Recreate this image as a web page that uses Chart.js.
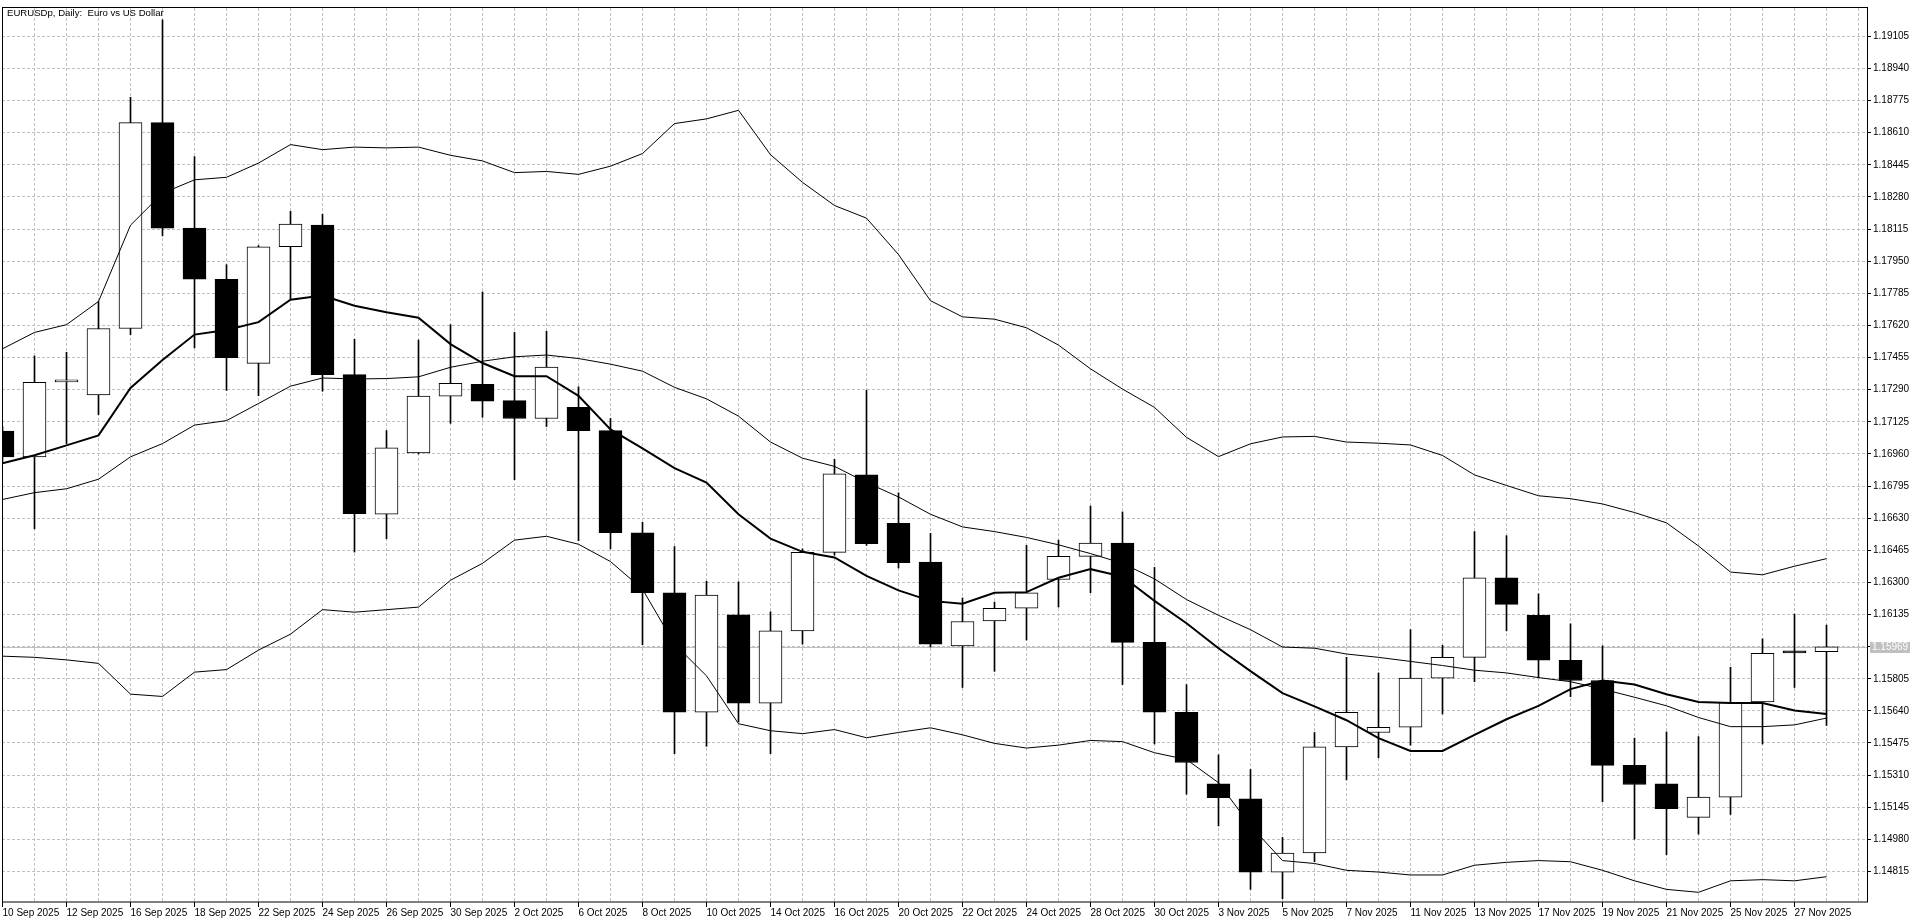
<!DOCTYPE html>
<html>
<head>
<meta charset="utf-8">
<title>EURUSDp, Daily</title>
<script src="https://cdn.jsdelivr.net/npm/chart.js@4.4.1/dist/chart.umd.min.js"></script>
<style>
  html, body { margin: 0; padding: 0; background: #fff; overflow: hidden; }
  #wrap { position: relative; width: 1920px; height: 923px; }
</style>
</head>
<body>
<div id="wrap"><canvas id="chart"></canvas></div>
<script>
'use strict';

// ── Data ──────────────────────────────────────────────────────
const dates = [
  '10 Sep 2025', '11 Sep 2025', '12 Sep 2025', '15 Sep 2025', '16 Sep 2025',
  '17 Sep 2025', '18 Sep 2025', '19 Sep 2025', '22 Sep 2025', '23 Sep 2025',
  '24 Sep 2025', '25 Sep 2025', '26 Sep 2025', '29 Sep 2025', '30 Sep 2025',
  '1 Oct 2025', '2 Oct 2025', '3 Oct 2025', '6 Oct 2025', '7 Oct 2025',
  '8 Oct 2025', '9 Oct 2025', '10 Oct 2025', '13 Oct 2025', '14 Oct 2025',
  '15 Oct 2025', '16 Oct 2025', '17 Oct 2025', '20 Oct 2025', '21 Oct 2025',
  '22 Oct 2025', '23 Oct 2025', '24 Oct 2025', '27 Oct 2025', '28 Oct 2025',
  '29 Oct 2025', '30 Oct 2025', '31 Oct 2025', '3 Nov 2025', '4 Nov 2025',
  '5 Nov 2025', '6 Nov 2025', '7 Nov 2025', '10 Nov 2025', '11 Nov 2025',
  '12 Nov 2025', '13 Nov 2025', '14 Nov 2025', '17 Nov 2025', '18 Nov 2025',
  '19 Nov 2025', '20 Nov 2025', '21 Nov 2025', '24 Nov 2025', '25 Nov 2025',
  '26 Nov 2025', '27 Nov 2025', '28 Nov 2025',
];

const opens = [
  1.17077, 1.16945, 1.17330, 1.17263, 1.17604, 1.18662, 1.18120, 1.17857, 1.17425, 1.18024,
  1.18135, 1.17367, 1.16651, 1.16965, 1.17257, 1.17317, 1.17234, 1.17142, 1.17199, 1.17080,
  1.16555, 1.16247, 1.15633, 1.16134, 1.15680, 1.16051, 1.16454, 1.16852, 1.16603, 1.16404,
  1.15974, 1.16102, 1.16167, 1.16315, 1.16434, 1.16502, 1.15992, 1.15633, 1.15265, 1.15188,
  1.14812, 1.14910, 1.15455, 1.15529, 1.15556, 1.15808, 1.15915, 1.16324, 1.16131, 1.15900,
  1.15796, 1.15360, 1.15265, 1.15093, 1.15197, 1.15686, 1.15941, 1.15944,
];
const highs = [
  1.17100, 1.17463, 1.17482, 1.17743, 1.18792, 1.19190, 1.18487, 1.17932, 1.18030, 1.18206,
  1.18191, 1.17549, 1.17080, 1.17545, 1.17624, 1.17792, 1.17584, 1.17590, 1.17305, 1.17142,
  1.16609, 1.16484, 1.16306, 1.16303, 1.16149, 1.16472, 1.16932, 1.17287, 1.16760, 1.16552,
  1.16220, 1.16199, 1.16490, 1.16517, 1.16692, 1.16662, 1.16377, 1.15775, 1.15414, 1.15339,
  1.14990, 1.15529, 1.15915, 1.15835, 1.16057, 1.15977, 1.16561, 1.16540, 1.16241, 1.16087,
  1.15974, 1.15500, 1.15532, 1.15508, 1.15864, 1.16010, 1.16137, 1.16081,
];
const lows = [
  1.16920, 1.16575, 1.17013, 1.17162, 1.17573, 1.18080, 1.17505, 1.17286, 1.17259, 1.17755,
  1.17282, 1.16456, 1.16524, 1.16960, 1.17117, 1.17148, 1.16828, 1.17101, 1.16514, 1.16472,
  1.15980, 1.15420, 1.15458, 1.15583, 1.15420, 1.15983, 1.16440, 1.16490, 1.16374, 1.15968,
  1.15760, 1.15843, 1.16004, 1.16173, 1.16247, 1.15775, 1.15470, 1.15212, 1.15049, 1.14723,
  1.14675, 1.14865, 1.15286, 1.15399, 1.15464, 1.15624, 1.15790, 1.16051, 1.15811, 1.15713,
  1.15173, 1.14981, 1.14901, 1.15007, 1.15108, 1.15470, 1.15760, 1.15565,
];
const closes = [
  1.16945, 1.17328, 1.17335, 1.17604, 1.18662, 1.18120, 1.17857, 1.17454, 1.18024, 1.18140,
  1.17367, 1.16653, 1.16991, 1.17257, 1.17323, 1.17231, 1.17142, 1.17406, 1.17080, 1.16555,
  1.16247, 1.15633, 1.16235, 1.15680, 1.16051, 1.16454, 1.16858, 1.16499, 1.16401, 1.15983,
  1.16099, 1.16167, 1.16247, 1.16434, 1.16502, 1.15992, 1.15633, 1.15375, 1.15194, 1.14812,
  1.14910, 1.15455, 1.15633, 1.15556, 1.15808, 1.15915, 1.16324, 1.16187, 1.15900, 1.15796,
  1.15360, 1.15262, 1.15138, 1.15197, 1.15683, 1.15935, 1.15938, 1.15969,
];

// fast moving average (thick line)
const maFast = [
  1.16912, 1.16953, 1.17004, 1.17055, 1.17299, 1.17442, 1.17573, 1.17597, 1.17637, 1.17752,
  1.17774, 1.17721, 1.17688, 1.17660, 1.17524, 1.17427, 1.17359, 1.17359, 1.17258, 1.17086,
  1.16988, 1.16887, 1.16813, 1.16650, 1.16525, 1.16457, 1.16428, 1.16333, 1.16259, 1.16205,
  1.16190, 1.16247, 1.16250, 1.16324, 1.16368, 1.16330, 1.16205, 1.16090, 1.15962, 1.15844,
  1.15731, 1.15663, 1.15592, 1.15500, 1.15434, 1.15434, 1.15517, 1.15597, 1.15666, 1.15752,
  1.15796, 1.15775, 1.15725, 1.15686, 1.15680, 1.15680, 1.15642, 1.15624,
];
// Bollinger bands (thin lines)
const bbMiddle = [
  1.16726, 1.16761, 1.16781, 1.16830, 1.16945, 1.17013, 1.17108, 1.17131, 1.17219, 1.17308,
  1.17350, 1.17345, 1.17347, 1.17356, 1.17405, 1.17436, 1.17459, 1.17468, 1.17450, 1.17421,
  1.17385, 1.17302, 1.17243, 1.17154, 1.17021, 1.16938, 1.16896, 1.16813, 1.16739, 1.16650,
  1.16585, 1.16561, 1.16531, 1.16493, 1.16448, 1.16398, 1.16318, 1.16212, 1.16131, 1.16057,
  1.15968, 1.15962, 1.15932, 1.15915, 1.15894, 1.15873, 1.15849, 1.15835, 1.15811, 1.15790,
  1.15752, 1.15710, 1.15666, 1.15606, 1.15559, 1.15559, 1.15568, 1.15603,
];
const bbUpper = [
  1.17500, 1.17584, 1.17624, 1.17743, 1.18135, 1.18299, 1.18368, 1.18381, 1.18454, 1.18549,
  1.18523, 1.18536, 1.18532, 1.18536, 1.18494, 1.18465, 1.18405, 1.18411, 1.18396, 1.18438,
  1.18503, 1.18657, 1.18681, 1.18725, 1.18497, 1.18355, 1.18236, 1.18171, 1.17984, 1.17747,
  1.17664, 1.17652, 1.17608, 1.17519, 1.17397, 1.17293, 1.17199, 1.17045, 1.16946, 1.17012,
  1.17047, 1.17050, 1.17021, 1.17015, 1.17006, 1.16952, 1.16852, 1.16798, 1.16745, 1.16730,
  1.16703, 1.16659, 1.16606, 1.16487, 1.16353, 1.16339, 1.16383, 1.16422,
];
const bbLower = [
  1.15921, 1.15915, 1.15902, 1.15884, 1.15726, 1.15714, 1.15839, 1.15852, 1.15952, 1.16034,
  1.16160, 1.16147, 1.16160, 1.16173, 1.16311, 1.16398, 1.16517, 1.16537, 1.16496, 1.16407,
  1.16265, 1.15983, 1.15820, 1.15574, 1.15538, 1.15523, 1.15544, 1.15502, 1.15529, 1.15553,
  1.15517, 1.15473, 1.15449, 1.15464, 1.15488, 1.15482, 1.15425, 1.15390, 1.15271, 1.15050,
  1.14871, 1.14856, 1.14821, 1.14812, 1.14797, 1.14797, 1.14847, 1.14862, 1.14871, 1.14865,
  1.14821, 1.14767, 1.14723, 1.14708, 1.14767, 1.14773, 1.14767, 1.14788,
];

const yTicks = [
  1.19105, 1.18940, 1.18775, 1.18610, 1.18445, 1.18280, 1.18115, 1.17950, 1.17785,
  1.17620, 1.17455, 1.17290, 1.17125, 1.16960, 1.16795, 1.16630, 1.16465, 1.16300,
  1.16135, 1.15970, 1.15805, 1.15640, 1.15475, 1.15310, 1.15145, 1.14980, 1.14815,
];
const lastPrice = 1.15969;
const titleText = 'EURUSDp, Daily:  Euro vs US Dollar';

// ── View window ───────────────────────────────────────────────
const X_MIN = -0.015625;
const X_MAX = 58.265625;
const Y_MIN = 1.146582;
const Y_MAX = 1.192506;

const FONT = '"Liberation Sans", Arial, sans-serif';
const GRID = '#c0c0c0';

// ── Helpers ───────────────────────────────────────────────────
function el(id) { return document.getElementById(id); }

const barIdx = dates.map((d, i) => i);
const gridBars = barIdx.concat([dates.length]);   // one dashed line per bar slot
const bodyColors = barIdx.map((i) => (closes[i] >= opens[i] ? '#ffffff' : '#000000'));

function lineSet(values, width, order) {
  return {
    type: 'line',
    data: values.map((v, i) => ({ x: i, y: v })),
    borderColor: '#000',
    borderWidth: width,
    pointRadius: 0,
    tension: 0,
    fill: false,
    order,
  };
}

// ── Plugin: frame, last-price line/label, title ──────────────
const terminalLook = {
  id: 'terminalLook',
  beforeDatasetsDraw(chart) {
    const { ctx, chartArea: a, scales: { y } } = chart;
    const py = Math.round(y.getPixelForValue(lastPrice)) + 0.5;
    ctx.save();
    ctx.strokeStyle = GRID;
    ctx.lineWidth = 1;
    ctx.beginPath();
    ctx.moveTo(a.left, py);
    ctx.lineTo(a.right, py);
    ctx.stroke();
    ctx.restore();
  },
  afterDraw(chart) {
    const { ctx, chartArea: a, scales: { y } } = chart;
    ctx.save();
    // plot frame
    ctx.strokeStyle = '#000';
    ctx.lineWidth = 1;
    ctx.strokeRect(a.left + 0.5, a.top - 0.5, a.right - a.left, a.bottom - a.top + 0.5);

    // last price box on the axis
    const py = Math.round(y.getPixelForValue(lastPrice));
    ctx.fillStyle = GRID;
    ctx.fillRect(a.right + 3, py - 5, 40, 11);
    ctx.fillStyle = '#fff';
    ctx.font = '10px ' + FONT;
    ctx.textBaseline = 'middle';
    ctx.textAlign = 'left';
    ctx.fillText(lastPrice.toFixed(5), a.right + 5, py + 0.5);

    // title
    ctx.fillStyle = '#000';
    ctx.font = '9.6px ' + FONT;
    ctx.textBaseline = 'top';
    ctx.fillText(titleText, a.left + 5, a.top + 1);
    ctx.restore();
  },
};

// ── Chart ─────────────────────────────────────────────────────
Chart.defaults.font.family = FONT;
Chart.defaults.font.size = 10;
Chart.defaults.color = '#000';

new Chart(el('chart'), {
  type: 'bar',
  data: {
    datasets: [
      lineSet(bbUpper, 1, 0),
      lineSet(bbMiddle, 1, 0),
      lineSet(bbLower, 1, 0),
      lineSet(maFast, 2, 0),
      {
        type: 'bar',
        data: barIdx.map((i) => ({ x: i, y: [opens[i], closes[i]] })),
        backgroundColor: bodyColors,
        borderColor: '#000',
        borderWidth: 1,
        borderSkipped: false,
        barThickness: 23,
        minBarLength: 2,
        grouped: false,
        order: 1,
      },
      {
        type: 'bar',
        data: barIdx.map((i) => ({ x: i, y: [lows[i], highs[i]] })),
        backgroundColor: '#000',
        borderWidth: 0,
        barThickness: 1,
        grouped: false,
        order: 2,
      },
    ],
  },
  options: {
    responsive: true,
    maintainAspectRatio: false,
    animation: false,
    events: [],
    layout: { padding: { left: 2, top: 3, right: 0, bottom: 0 } },
    plugins: {
      legend: { display: false },
      tooltip: { enabled: false },
      title: { display: false },
    },
    scales: {
      x: {
        type: 'linear',
        min: X_MIN,
        max: X_MAX,
        bounds: 'data',
        offset: false,
        afterBuildTicks: (s) => { s.ticks = gridBars.map((v) => ({ value: v })); },
        afterFit: (s) => { s.height = 21; },
        border: { display: false, dash: [3, 2] },
        grid: {
          color: GRID,
          lineWidth: 1,
          offset: false,
          tickLength: 5,
          tickBorderDash: [],
          tickColor: (c) => (c.tick && c.tick.value % 2 === 0 && c.tick.value < dates.length)
            ? '#000' : 'rgba(0,0,0,0)',
        },
        ticks: {
          autoSkip: false,
          maxRotation: 0,
          minRotation: 0,
          align: 'start',
          padding: 0,
          color: '#000',
          font: { size: 10 },
          callback: (v) => (v % 2 === 0 && v < dates.length ? dates[v] : ''),
        },
      },
      y: {
        type: 'linear',
        position: 'right',
        min: Y_MIN,
        max: Y_MAX,
        bounds: 'data',
        afterBuildTicks: (s) => { s.ticks = yTicks.map((v) => ({ value: v })); },
        afterFit: (s) => { s.width = 53; },
        border: { display: false, dash: [3, 2] },
        grid: {
          color: GRID,
          lineWidth: 1,
          tickLength: 4,
          tickBorderDash: [],
          tickColor: '#000',
        },
        ticks: {
          padding: 2,
          color: '#000',
          font: { size: 10 },
          callback: (v) => (Math.abs(v - lastPrice) < 0.00005 ? '' : v.toFixed(5)),
        },
      },
    },
  },
  plugins: [terminalLook],
});
</script>
</body>
</html>
